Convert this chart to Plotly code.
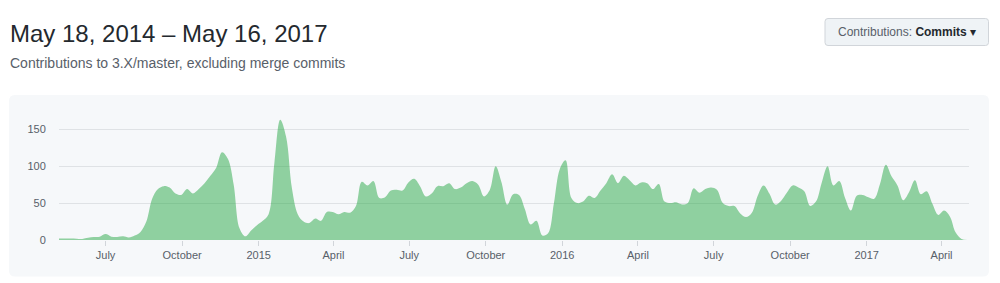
import plotly.graph_objects as go
import pandas as pd

# ---- data (weekly commit counts) ----
week_start = "2014-05-06"
commits = [
    2, 2, 2, 1.8, 1.5, 3, 4, 4.5, 8, 4.5,
    4, 5, 3.5, 6, 11, 25, 56, 69, 73, 71,
    63, 61, 69, 63, 69, 77, 87, 98, 119, 110,
    75, 16, 5, 13, 20, 26, 35, 105, 163, 140,
    70, 35, 25, 23, 29, 26, 38, 38, 35, 38,
    37, 46, 79, 74, 80, 57, 58, 67, 68, 67,
    78, 83, 73, 59, 63, 73, 73, 77, 69, 71,
    77, 80, 75, 59, 68, 100, 78, 48, 62, 61,
    42, 21, 26, 6, 9, 50, 96, 108, 57, 50,
    52, 60, 57, 67, 77, 89, 77, 87, 81, 74,
    78, 77, 69, 76, 52, 50, 51, 48, 50, 70,
    64, 69, 71, 68, 50, 46, 46, 36, 31, 37,
    60, 74, 63, 48, 53, 64, 74, 71, 66, 46,
    52, 78, 100, 74, 80, 57, 40, 60, 61, 58,
    56, 76, 102, 86, 74, 54, 65, 81, 62, 66,
    49, 34, 40, 32, 10, 1.5, 0,
]
weeks = pd.date_range(week_start, periods=len(commits), freq="7D")

x_range = ["2014-05-06", "2017-05-04"]
tick_dates = ["2014-07-01", "2014-10-01", "2015-01-01", "2015-04-01",
              "2015-07-01", "2015-10-01", "2016-01-01", "2016-04-01",
              "2016-07-01", "2016-10-01", "2017-01-01", "2017-04-01"]
tick_labels = ["July", "October", "2015", "April", "July", "October",
               "2016", "April", "July", "October", "2017", "April"]
y_ticks = [0, 50, 100, 150]

title_text = "May 18, 2014 – May 16, 2017"
subtitle_text = "Contributions to 3.X/master, excluding merge commits"

# ---- layout geometry (pixels) ----
W, H = 1000, 283
ML, MR, MT, MB = 59, 31, 111, 43
PW, PH = W - ML - MR, H - MT - MB
Y_MAX = 174.8

FONT = "Liberation Sans, Arial, Helvetica, sans-serif"


def px(x):
    return (x - ML) / PW


def py(y):
    return (H - MB - y) / PH


def rounded_rect(x0, y0, x1, y1, r):
    rx, ry = r / PW, r / PH
    X0, X1 = px(x0), px(x1)
    Y0, Y1 = py(y0), py(y1)  # Y0 top, Y1 bottom (paper units, Y0 > Y1)
    return (f"M{X0+rx},{Y0} L{X1-rx},{Y0} Q{X1},{Y0} {X1},{Y0-ry} "
            f"L{X1},{Y1+ry} Q{X1},{Y1} {X1-rx},{Y1} "
            f"L{X0+rx},{Y1} Q{X0},{Y1} {X0},{Y1+ry} "
            f"L{X0},{Y0-ry} Q{X0},{Y0} {X0+rx},{Y0} Z")


fig = go.Figure()
fig.add_trace(go.Scatter(
    x=weeks, y=commits, mode="lines",
    line=dict(width=0, shape="spline", smoothing=1.0, color="rgba(40,167,69,0.5)"),
    fill="tozeroy", fillcolor="rgba(40,167,69,0.5)",
    hoverinfo="skip", showlegend=False,
))

shapes = [
    dict(type="path", xref="paper", yref="paper", layer="below",
         path=rounded_rect(9, 95, 989, 276.5, 6),
         fillcolor="#f6f8fa", line=dict(width=0)),
    dict(type="path", xref="paper", yref="paper", layer="above",
         path=rounded_rect(825, 18.5, 988.5, 45.5, 3),
         fillcolor="#eff3f6", line=dict(width=1, color="#d1d5da")),
]

annotations = [
    dict(text=title_text, xref="paper", yref="paper", x=px(7.5), y=py(33.5),
         xanchor="left", yanchor="middle", showarrow=False,
         font=dict(family=FONT, size=24, color="#24292e")),
    dict(text=subtitle_text, xref="paper", yref="paper", x=px(7.5), y=py(63),
         xanchor="left", yanchor="middle", showarrow=False,
         font=dict(family=FONT, size=14, color="#586069")),
    dict(text="<span style='color:#586069'>Contributions: </span><b>Commits</b> ▾",
         xref="paper", yref="paper", x=px(906.5), y=py(32),
         xanchor="center", yanchor="middle", showarrow=False,
         font=dict(family=FONT, size=12, color="#24292e")),
]

fig.update_layout(
    width=W, height=H,
    margin=dict(l=ML, r=MR, t=MT, b=MB, pad=0),
    paper_bgcolor="white", plot_bgcolor="rgba(0,0,0,0)",
    shapes=shapes, annotations=annotations,
    font=dict(family=FONT, size=11, color="#586069"),
    xaxis=dict(type="date", range=x_range, tickvals=tick_dates, ticktext=tick_labels,
               showgrid=False, zeroline=False, showline=False,
               ticks="outside", ticklen=5, tickcolor="#d1d5da", tickwidth=1,
               tickfont=dict(family=FONT, size=11, color="#586069"),
               fixedrange=True),
    yaxis=dict(range=[0, Y_MAX], tickvals=y_ticks, showgrid=True,
               gridcolor="#dfe2e5", gridwidth=1, zeroline=False, showline=False,
               ticks="outside", ticklen=10, tickcolor="rgba(0,0,0,0)",
               tickfont=dict(family=FONT, size=11, color="#586069"),
               fixedrange=True),
)

fig.write_html("out.html")
